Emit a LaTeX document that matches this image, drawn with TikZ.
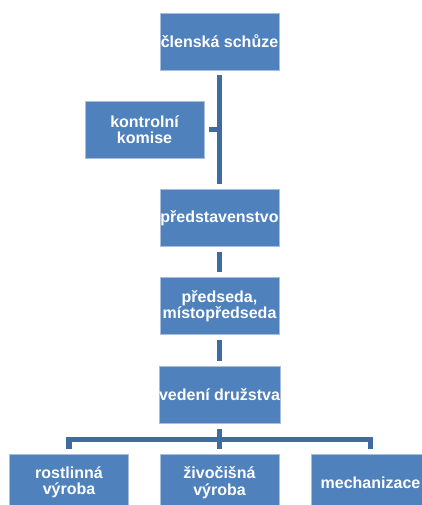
\documentclass[tikz,border=0pt]{standalone}
\usepackage{fontspec}
\setmainfont{Liberation Sans}
\usetikzlibrary{calc}
\definecolor{boxfill}{HTML}{4F81BD}
\definecolor{boxedge}{HTML}{A9BEDC}
\definecolor{linkcol}{HTML}{3F6AA2}
\tikzset{
  orgbox/.style={draw=boxedge, line width=0.6pt, fill=boxfill, minimum width=119pt, minimum height=57pt,
    inner sep=0pt, text=white, align=center, font=\fontsize{16}{16.5}\selectfont\bfseries},
  link/.style={draw=linkcol, line width=5.5pt, line cap=butt, line join=miter}
}
\begin{document}
\begin{tikzpicture}[x=1pt,y=-1pt]
\clip (0,0) rectangle (422,505);
\fill[white] (0,0) rectangle (422,505);
\node[orgbox] (clen) at (219.5,41.5) {členská schůze};
\node[orgbox] (kom) at (144.5,129.5) {kontrolní\\komise};
\node[orgbox] (pred) at (219.5,218) {představenstvo};
\node[orgbox] (psd) at (219.5,306) {předseda,\\místopředseda};
\node[orgbox] (ved) at (219.5,394.5) {vedení družstva};
\node[orgbox] (rost) at (69,482.5) {rostlinná\\výroba};
\node[orgbox] (ziv) at (219.5,482.5) {živočišná\\výroba};
\node[orgbox] (mech) at (370.5,482.5) {mechanizace};
\coordinate (bus) at ($(ved.south)+(0,16)$);
\draw[link, shorten <=5pt, shorten >=5.5pt] (clen.south) -- (pred.north);
\draw[link, shorten <=4.5pt] (kom.east) -- (kom.east -| clen.south);
\draw[link, shorten <=5pt, shorten >=5.5pt] (pred.south) -- (psd.north);
\draw[link, shorten <=5.5pt, shorten >=5pt] (psd.south) -- (ved.north);
\draw[link, shorten <=6pt, shorten >=5pt] (ved.south) -- (ziv.north);
\draw[link] ($(rost.north)+(0,-5)$) |- (bus) -| ($(mech.north)+(0,-5)$);
\end{tikzpicture}
\end{document}
